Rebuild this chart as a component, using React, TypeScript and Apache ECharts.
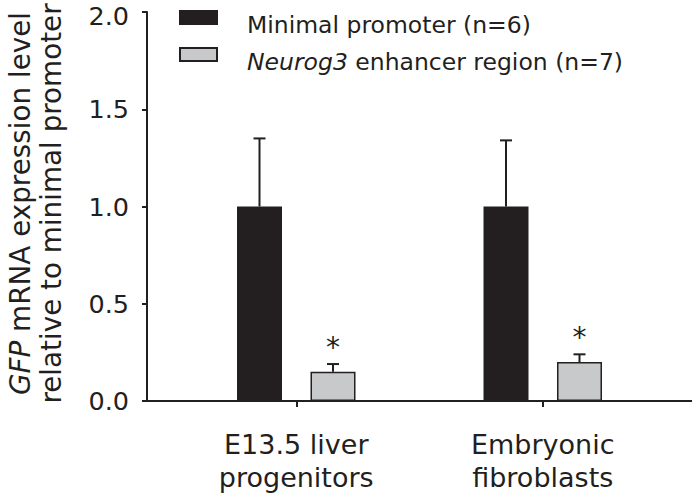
import React, { useEffect, useRef } from "react";
import * as echarts from "echarts";

const categories = ["E13.5 liver\nprogenitors", "Embryonic\nfibroblasts"];
const seriesNames = ["Minimal promoter (n=6)", "Neurog3 enhancer region (n=7)"];
const minimalMean = [1.0, 1.0];
const minimalErr = [0.35, 0.34];
const enhancerMean = [0.15, 0.2];
const enhancerErr = [0.04, 0.04];
const enhancerSig = ["*", "*"];
const yMin = 0;
const yMax = 2;
const yInterval = 0.5;

const INK = "#231f20";
const GRAY = "#c8c9cb";
const FONT = "DejaVu Sans";
const BAR_W = 45;
const BAR_GAP = 28.5;
const OFFSET = (BAR_W + BAR_GAP) / 2;
const CAP = 6;

function makeErrRender(side: number, sig?: string[]) {
  return (params: any, api: any) => {
    const idx = api.value(0);
    const mean = api.value(1);
    const err = api.value(2);
    const base = api.coord([idx, mean]);
    const top = api.coord([idx, mean + err]);
    const x = base[0] + side * OFFSET;
    const children: any[] = [
      { type: "line", shape: { x1: x, y1: base[1], x2: x, y2: top[1] }, style: { stroke: INK, lineWidth: 2 } },
      { type: "line", shape: { x1: x - CAP, y1: top[1], x2: x + CAP, y2: top[1] }, style: { stroke: INK, lineWidth: 2 } },
    ];
    if (sig) {
      children.push({
        type: "text",
        x,
        y: top[1] - 17,
        style: {
          text: sig[params.dataIndex],
          fill: INK,
          fontSize: 28,
          fontFamily: FONT,
          align: "center",
          verticalAlign: "middle",
        },
      });
    }
    return { type: "group", children };
  };
}

export default function App() {
  const ref = useRef<HTMLDivElement>(null);
  useEffect(() => {
    if (!ref.current) return;
    const chart = echarts.init(ref.current, null, { renderer: "svg" });
    const legendText = { fontFamily: FONT, fontSize: 23.5, color: INK, lineHeight: 22 };
    const titleText = { fontFamily: FONT, fontSize: 27.8, color: INK, lineHeight: 31 };
    const tickText = { fontFamily: FONT, fontSize: 25.5, color: INK, lineHeight: 22 };
    chart.setOption({
      animation: false,
      backgroundColor: "#ffffff",
      grid: [
        { left: 147, right: 0, top: 12, bottom: 97, outerBoundsMode: "none", containLabel: false },
        { left: 173, right: 26, top: 12, bottom: 97, outerBoundsMode: "none", containLabel: false },
      ],
      legend: {
        orient: "vertical",
        left: 179,
        top: -0.5,
        padding: 0,
        itemGap: 0,
        icon: "rect",
        itemWidth: 37,
        itemHeight: 13,
        data: seriesNames,
        textStyle: {
          ...legendText,
          padding: [14, 0, 0, 25],
          rich: {
            i: { ...legendText, fontStyle: "italic" },
            n: { ...legendText },
          },
        },
        formatter: (name: string) =>
          name.startsWith("Neurog3") ? "{i|Neurog3}{n|" + name.slice(7) + "}" : "{n|" + name + "}",
      },
      xAxis: [
        {
          type: "value",
          gridIndex: 0,
          min: 0,
          max: 1,
          axisLine: { show: true, onZero: false, lineStyle: { color: INK, width: 2 } },
          axisTick: { show: false },
          axisLabel: { show: false },
          splitLine: { show: false },
        },
        {
          type: "category",
          gridIndex: 1,
          data: categories,
          axisLine: { show: false },
          axisTick: { show: true, alignWithLabel: true, length: 6, lineStyle: { color: INK, width: 2 } },
          axisLabel: {
            margin: 27,
            color: INK,
            fontFamily: FONT,
            fontSize: 27,
            lineHeight: 33,
          },
        },
      ],
      yAxis: [
        { type: "value", gridIndex: 0, min: yMin, max: yMax, show: false },
        {
          type: "value",
          gridIndex: 1,
          min: yMin,
          max: yMax,
          interval: yInterval,
          offset: 26,
          axisLine: { show: true, onZero: false, lineStyle: { color: INK, width: 2 } },
          axisTick: { show: true, length: 5, lineStyle: { color: INK, width: 2 } },
          axisLabel: {
            margin: 18,
            ...tickText,
            formatter: (v: number) => (v >= yMax ? "{t|" + v.toFixed(1) + "}" : "{n|" + v.toFixed(1) + "}"),
            rich: {
              n: { ...tickText },
              t: { ...tickText, padding: [8, 0, 0, 0] },
            },
          },
          splitLine: { show: false },
          name: "{i|GFP}{n| mRNA expression level}\n{n|relative to minimal promoter}",
          nameLocation: "middle",
          nameRotate: 90,
          nameGap: 80,
          nameMoveOverlap: false,
          nameTextStyle: {
            padding: [0, 0, 0, 6],
            rich: {
              i: { ...titleText, fontStyle: "italic" },
              n: { ...titleText },
            },
          },
        },
      ],
      series: [
        {
          name: seriesNames[0],
          type: "bar",
          xAxisIndex: 1,
          yAxisIndex: 1,
          data: minimalMean,
          barWidth: BAR_W,
          barGap: (BAR_GAP / BAR_W) * 100 + "%",
          itemStyle: { color: INK, borderColor: INK, borderWidth: 1.5 },
        },
        {
          name: seriesNames[1],
          type: "bar",
          xAxisIndex: 1,
          yAxisIndex: 1,
          data: enhancerMean,
          barWidth: BAR_W,
          itemStyle: { color: GRAY, borderColor: INK, borderWidth: 1.5 },
        },
        {
          type: "custom",
          xAxisIndex: 1,
          yAxisIndex: 1,
          data: minimalMean.map((m, i) => [i, m, minimalErr[i]]),
          renderItem: makeErrRender(-1),
          z: 5,
        },
        {
          type: "custom",
          xAxisIndex: 1,
          yAxisIndex: 1,
          data: enhancerMean.map((m, i) => [i, m, enhancerErr[i]]),
          renderItem: makeErrRender(1, enhancerSig),
          z: 5,
        },
      ],
    });
    return () => chart.dispose();
  }, []);
  return <div ref={ref} style={{ width: 692, height: 498, position: "absolute", left: 0, top: 0 }} />;
}
